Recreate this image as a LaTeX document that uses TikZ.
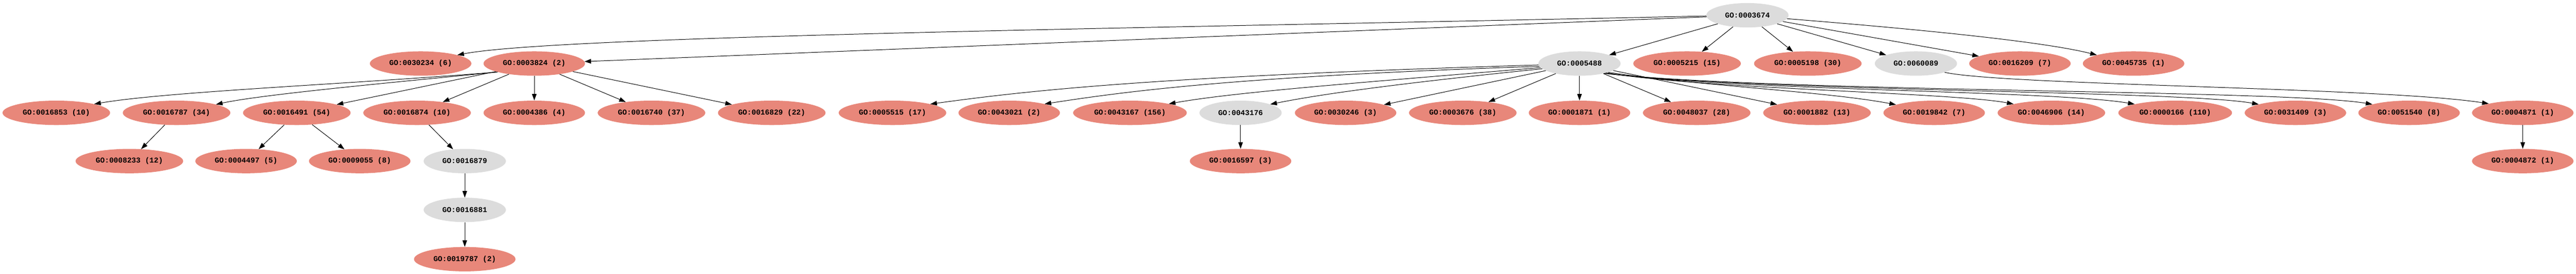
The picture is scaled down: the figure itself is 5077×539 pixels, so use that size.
\documentclass[tikz,border=0pt]{standalone}
\usepackage{fontspec}
\newfontfamily\gofont{Liberation Mono Bold}
\usetikzlibrary{shapes.geometric,arrows.meta}
\definecolor{hitred}{RGB}{232,135,122}
\definecolor{nohitgray}{RGB}{220,220,220}
\tikzset{
  gonode/.style={ellipse, inner sep=0pt, minimum height=48pt, font=\gofont\fontsize{14.7}{16}\selectfont},
  hit/.style={gonode, fill=hitred, minimum width=#1},
  hit/.default=212pt,
  nohit/.style={gonode, fill=nohitgray, minimum width=162pt},
  e/.style={draw=black, line width=1pt, -{Triangle[length=13pt,width=9pt]}}
}
\begin{document}
\begin{tikzpicture}[x=1pt,y=-1pt]
\useasboundingbox (0,0) rectangle (5077,539);
% row 0
\node[nohit] (n3674) at (3444,30) {GO:0003674};
% row 1
\node[hit=200pt] (n30234) at (829,125) {GO:0030234 (6)};
\node[hit=200pt] (n3824) at (1053,125) {GO:0003824 (2)};
\node[nohit] (n5488) at (3113,125) {GO:0005488};
\node[hit] (n5215) at (3325,125) {GO:0005215 (15)};
\node[hit] (n5198) at (3563,125) {GO:0005198 (30)};
\node[nohit] (n60089) at (3776,125) {GO:0060089};
\node[hit=200pt] (n16209) at (3981,125) {GO:0016209 (7)};
\node[hit=200pt] (n45735) at (4205,125) {GO:0045735 (1)};
% row 2
\node[hit] (n16853) at (111,222) {GO:0016853 (10)};
\node[hit] (n16787) at (348,222) {GO:0016787 (34)};
\node[hit] (n16491) at (585,222) {GO:0016491 (54)};
\node[hit] (n16874) at (822,222) {GO:0016874 (10)};
\node[hit=200pt] (n4386) at (1053,222) {GO:0004386 (4)};
\node[hit] (n16740) at (1284,222) {GO:0016740 (37)};
\node[hit] (n16829) at (1521,222) {GO:0016829 (22)};
\node[hit] (n5515) at (1759,222) {GO:0005515 (17)};
\node[hit=200pt] (n43021) at (1989,222) {GO:0043021 (2)};
\node[hit=224pt] (n43167) at (2227,222) {GO:0043167 (156)};
\node[nohit] (n43176) at (2445,222) {GO:0043176};
\node[hit=200pt] (n30246) at (2652,222) {GO:0030246 (3)};
\node[hit] (n3676) at (2883,222) {GO:0003676 (38)};
\node[hit=200pt] (n1871) at (3113,222) {GO:0001871 (1)};
\node[hit] (n48037) at (3344,222) {GO:0048037 (28)};
\node[hit] (n1882) at (3581,222) {GO:0001882 (13)};
\node[hit=200pt] (n19842) at (3812,222) {GO:0019842 (7)};
\node[hit] (n46906) at (4043,222) {GO:0046906 (14)};
\node[hit=224pt] (n166) at (4287,222) {GO:0000166 (110)};
\node[hit=200pt] (n31409) at (4524,222) {GO:0031409 (3)};
\node[hit=200pt] (n51540) at (4748,222) {GO:0051540 (8)};
\node[hit=200pt] (n4871) at (4972,222) {GO:0004871 (1)};
% row 3
\node[hit] (n8233) at (255,317) {GO:0008233 (12)};
\node[hit=200pt] (n4497) at (485,317) {GO:0004497 (5)};
\node[hit=200pt] (n9055) at (709,317) {GO:0009055 (8)};
\node[nohit] (n16879) at (916,317) {GO:0016879};
\node[hit=200pt] (n16597) at (2445,317) {GO:0016597 (3)};
\node[hit=200pt] (n4872) at (4972,317) {GO:0004872 (1)};
% row 4, 5
\node[nohit] (n16881) at (916,413) {GO:0016881};
\node[hit=200pt] (n19787) at (916,510) {GO:0019787 (2)};
% edges from root
\draw[e] (n3674.181) .. controls (2300,55) and (1100,70) .. (n30234.13);
\draw[e] (n3674) -- (n3824);
\draw[e] (n3674) -- (n5488);
\draw[e] (n3674) -- (n5215);
\draw[e] (n3674) -- (n5198);
\draw[e] (n3674) -- (n60089);
\draw[e] (n3674) -- (n16209);
\draw[e] (n3674.355) .. controls (3750,55) and (4020,80) .. (n45735.167);
% edges from GO:0003824
\draw[e] (n3824.193) .. controls (700,165) and (330,180) .. (n16853.13);
\draw[e] (n3824.193) .. controls (800,160) and (520,185) .. (n16787.12);
\draw[e] (n3824) -- (n16491);
\draw[e] (n3824) -- (n16874);
\draw[e] (n3824) -- (n4386);
\draw[e] (n3824) -- (n16740);
\draw[e] (n3824) -- (n16829);
% lower levels
\draw[e] (n16787) -- (n8233);
\draw[e] (n16491) -- (n4497);
\draw[e] (n16491) -- (n9055);
\draw[e] (n16874) -- (n16879);
\draw[e] (n16879) -- (n16881);
\draw[e] (n16881) -- (n19787);
\draw[e] (n43176) -- (n16597);
\draw[e] (n4871) -- (n4872);
% edges from GO:0005488
\draw[e] (n5488.182) .. controls (2300,150) and (2050,175) .. (n5515.13);
\draw[e] (n5488.184) .. controls (2450,150) and (2230,178) .. (n43021.14);
\draw[e] (n5488.186) .. controls (2650,165) and (2430,182) .. (n43167.13);
\draw[e] (n5488.188) .. controls (2700,170) and (2580,190) .. (n43176.16);
\draw[e] (n5488) -- (n30246);
\draw[e] (n5488) -- (n3676);
\draw[e] (n5488) -- (n1871);
\draw[e] (n5488) -- (n48037);
\draw[e] (n5488) -- (n1882);
\draw[e] (n5488.343) .. controls (3340,168) and (3600,180) .. (n19842.168);
\draw[e] (n5488.341) .. controls (3350,175) and (3850,182) .. (n46906.167);
\draw[e] (n5488.340) .. controls (3400,178) and (4050,178) .. (n166.168);
\draw[e] (n5488.339) .. controls (3450,180) and (4300,178) .. (n31409.167);
\draw[e] (n5488.338) .. controls (3500,182) and (4500,176) .. (n51540.167);
% edge from GO:0060089
\draw[e] (n60089.343) .. controls (3950,168) and (4700,172) .. (n4871.165);
\end{tikzpicture}
\end{document}
